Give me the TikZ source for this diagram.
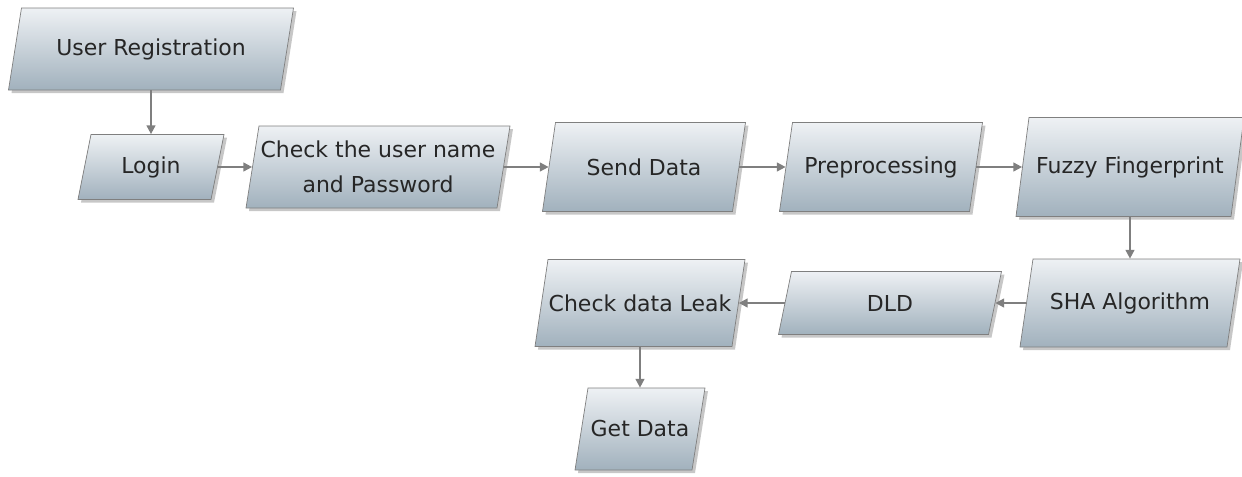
\documentclass[tikz,border=0pt]{standalone}
\usepackage{fontspec}
\setmainfont{DejaVu Sans}
\usetikzlibrary{arrows.meta}
\definecolor{boxtop}{HTML}{EEF1F4}
\definecolor{boxbot}{HTML}{A1B1BD}
\definecolor{edge}{HTML}{7F7F7F}

\begin{document}
\begin{tikzpicture}[x=.02cm, y=-.02cm,
  box/.style={inner sep=0pt, align=center, text=black!85,
    font=\fontsize{12.5}{20}\selectfont},
  boxfill/.style={draw=edge, top color=boxtop, bottom color=boxbot},
  boxshadow/.style={fill=black, opacity=.22},
  flow/.style={draw=edge, line width=1pt, -{Triangle[length=5pt, width=5pt]}}]
\useasboundingbox (0, 0) rectangle (1242, 477);
% parallelogram boxes: name/x/y/width/height/text, slant 13
\foreach \n/\x/\y/\w/\h/\t in {
  reg/151/49/272/82/{User Registration},
  login/151/167/133/65/{Login},
  check/378/167/251/82/{Check the user name\\and Password},
  send/644/167/190/89/{Send Data},
  prep/881/167/190/89/{Preprocessing},
  fuzzy/1130/167/215/99/{Fuzzy Fingerprint},
  sha/1130/303/207/88/{SHA Algorithm},
  dld/890/303/210/63/{DLD},
  leak/640/303/197/87/{Check data Leak},
  get/640/429/117/82/{Get Data}} {
  \fill [boxshadow] (\x-\w/2+9.5, \y-\h/2+3) -- ++(\w, 0) -- ++(-13, \h) -- ++(-\w, 0) -- cycle;
  \shade [boxfill] (\x-\w/2+6.5, \y-\h/2) -- ++(\w, 0) -- ++(-13, \h) -- ++(-\w, 0) -- cycle;
  \node [box, minimum width=\w*.02cm, minimum height=\h*.02cm] (\n) at (\x, \y) {\t};
}
\foreach \a/\b in {reg/login, login/check, check/send, send/prep, prep/fuzzy,
  fuzzy/sha, sha/dld, dld/leak, leak/get}
  \draw [flow] (\a) -- (\b);
\end{tikzpicture}
\end{document}
